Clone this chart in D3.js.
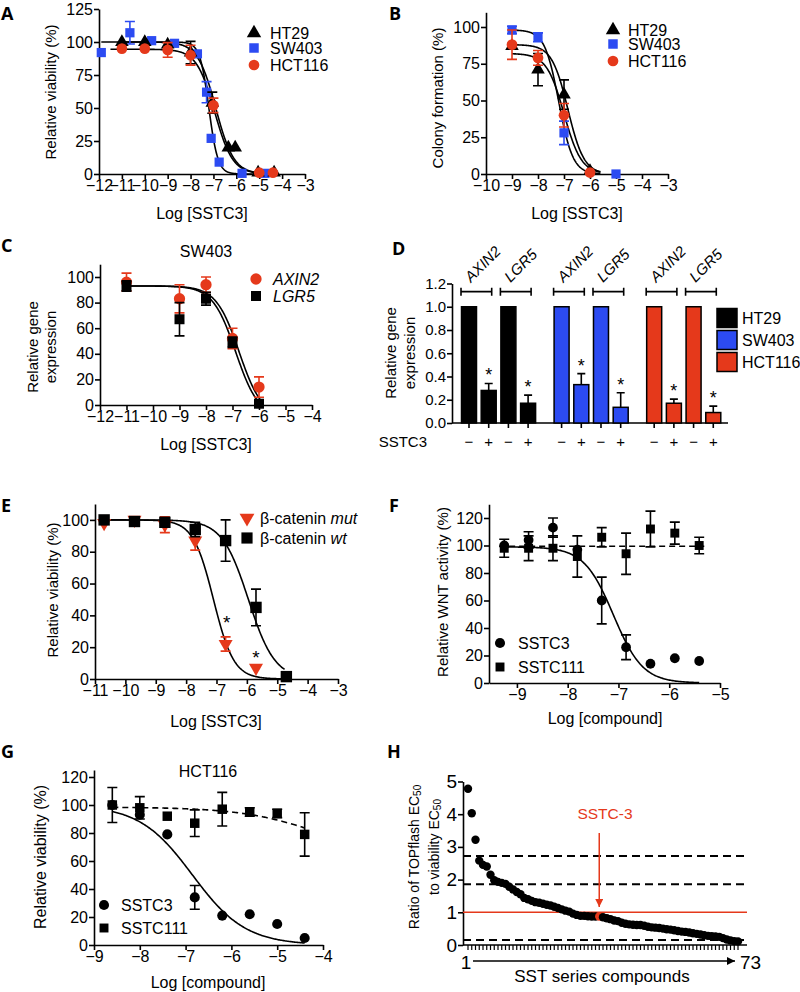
<!DOCTYPE html>
<html>
<head>
<meta charset="utf-8">
<style>
  body { margin: 0; background: #fff; }
</style>
</head>
<body>
<svg width="800" height="992"></svg>
<script src="https://cdn.jsdelivr.net/npm/d3@7"></script>
<script>
// ---- data: [log dose, mean, error] ----
var aHT29   = [[-11,100,0],[-10,100,0],[-9,98,0],[-8,92,8.5],[-7.05,54,8],[-6.35,20,0],[-6.05,20,0],[-5.05,1,0],[-4.35,1,0]];
var aSW403  = [[-11.9,92,0],[-10.65,107,8.5],[-9.7,101,0],[-8.7,99,0],[-7.7,91,0],[-7.3,62,8],[-7.1,27,0],[-6.75,9,0],[-5.75,0.5,0],[-4.75,0.5,0]];
var aHCT116 = [[-11,95,0],[-10,95,0],[-9,94,5.5],[-8,90,7.5],[-7,52,5.5],[-5,1,0],[-4.4,1,0]];
// fits: [top, bottom, logEC50, hill, from, to]
var aFits = [[100,0,-6.9,1.1,-11,-4.3],[100,0,-7.2,2.2,-11.9,-4.75],[94.5,0,-6.95,1.1,-11.5,-4.4]];

var bHT29   = [[-9,87,0],[-8,71,11],[-7,54,10],[-6,2,0]];
var bSW403  = [[-9,98,2.5],[-8,93,3],[-7,28,8],[-5,0,0]];
var bHCT116 = [[-9,88,10],[-8,79,5],[-7,40,8],[-6,1,0]];
var bFits = [[88,0,-6.85,1.4,-9,-5.6],[98,0,-7.2,1.6,-9,-5.6],[82,0,-7.0,1.3,-9,-5.6]];

var cAXIN2 = [[-11,96,7],[-9,83,11],[-8,94,6],[-7,52,8],[-6,14,8]];
var cLGR5  = [[-11,93,4],[-9,67,13],[-8,83,5],[-7,49,4],[-6,1,0]];
var cFits = [[93,-10,-6.75,1.0,-11,-5.9],[93,-10,-6.88,1.0,-11,-5.9]];

var dLines = ["HT29","SW403","HCT116"];
var dGenes = ["AXIN2","LGR5"];
var dControl = [[1,1],[1,1],[1,1]];
var dTreated = [[0.28,0.17],[0.33,0.135],[0.17,0.09]];
var dTreatedErr = [[0.06,0.07],[0.095,0.125],[0.035,0.055]];

var eMut = [[-10.7,98,0],[-9.7,100,1.5],[-8.7,97,5],[-7.7,87,6],[-6.7,22,4.5],[-5.7,7,0]];
var eWt  = [[-10.7,100,0],[-9.7,99,0],[-8.7,98.5,2],[-7.7,94,4.5],[-6.7,87,13],[-5.7,45,11.5],[-4.7,1.5,0]];
var eFits = [[100,0,-7.1,1.3,-10.7,-4.75],[100,0,-5.95,1.0,-10.7,-4.75]];
var eStars = [[-6.66,37],[-5.7,15]];

var fDose = [-9.25,-8.77,-8.29,-7.81,-7.33,-6.85,-6.37,-5.89,-5.41];
var fSSTC3 = [100,104,113,97,60,26,14,18,16];
var fSSTC3Err = [0,6,7,0,17,9,0,0,0];
var fSSTC111 = [98,98,98,92,106,94,112,109,100];
var fSSTC111Err = [6.5,9,9,15,7,15,13,8,6];
var fFits = [[99,0,-7.1,1.5,-9.25,-5.41],[99.5,99.5,-7,1,-9.35,-5.3]];

var gDose = [-8.6,-8.0,-7.4,-6.8,-6.2,-5.6,-5.0,-4.4];
var gSSTC3 = [100,93,79,34,21,22,15,5];
var gSSTC3Err = [0,0,0,8.5,0,0,0,0];
var gSSTC111 = [100,98,92,87,97,95,94,79];
var gSSTC111Err = [12.5,8,0,9.5,12,3,3,15.5];
var gFits = [[100,0,-6.85,0.75,-8.6,-4.4],[98.5,60,-4.0,0.5,-8.6,-4.4]];

var hRatio = [4.78,4.03,3.22,2.58,2.45,2.40,2.15,1.98,1.93,1.90,1.87,1.78,1.70,1.62,1.55,1.44,1.40,1.35,1.31,1.29,
              1.26,1.23,1.21,1.17,1.13,1.09,1.05,1.02,0.96,0.92,0.89,0.89,0.88,0.87,0.87,0.87,0.85,0.82,0.79,0.75,
              0.73,0.68,0.65,0.63,0.62,0.61,0.61,0.59,0.56,0.54,0.53,0.52,0.50,0.48,0.47,0.45,0.43,0.41,0.40,0.38,
              0.36,0.34,0.32,0.30,0.28,0.27,0.26,0.25,0.21,0.17,0.14,0.12,0.11];
var hHighlight = 36;
var hCutoffs = [2.72, 1.86, 0.15];
var hRef = 1;

// tick values
var aTicksX = [-12,-11,-10,-9,-8,-7,-6,-5,-4,-3], aTicksY = [0,25,50,75,100,125];
var bTicksX = [-10,-9,-8,-7,-6,-5,-4,-3], bTicksY = [0,25,50,75,100];
var cTicksX = [-12,-11,-10,-9,-8,-7,-6,-5,-4], cTicksY = [0,20,40,60,80,100];
var dTicksY = [0,0.2,0.4,0.6,0.8,1.0,1.2];
var eTicksX = [-11,-10,-9,-8,-7,-6,-5,-4,-3], eTicksY = [0,20,40,60,80,100];
var fTicksX = [-9,-8,-7,-6,-5], fTicksY = [0,20,40,60,80,100,120];
var gTicksX = [-9,-8,-7,-6,-5,-4], gTicksY = [0,20,40,60,80,100,120];
var hTicksY = [0,1,2,3,4,5];

var svg = d3.select("svg");
var FONT = '"Liberation Sans", Arial, Helvetica, sans-serif';
var BLUE = "#2c4bf2", RED = "#e5391b";
var TICK = 16, LEG = 16;

var defs = svg.append("defs");
function arrowMarker(id, color) {
  defs.append("marker").attr("id", id).attr("viewBox", "0 0 10 10")
    .attr("refX", 10).attr("refY", 5).attr("markerWidth", 9).attr("markerHeight", 8)
    .attr("markerUnits", "userSpaceOnUse").attr("orient", "auto")
    .append("path").attr("d", "M0,0L10,5L0,10z").attr("fill", color);
}
arrowMarker("arrRed", RED);
arrowMarker("arrBlack", "#000");

function hill4(f, v) { return f[1] + (f[0] - f[1]) / (1 + Math.pow(10, (v - f[2]) * f[3])); }

function text(x, y, s, size, anchor, fill) {
  return svg.append("text").attr("x", x).attr("y", y).attr("font-family", FONT)
    .attr("font-size", size).attr("text-anchor", anchor || "start").attr("fill", fill || "#000").text(s);
}
function yLabel(x, y, s, size) {
  return svg.append("text").attr("transform", "translate(" + x + "," + y + ") rotate(-90)")
    .attr("text-anchor", "middle").attr("dominant-baseline", "central")
    .attr("font-family", FONT).attr("font-size", size).text(s);
}
function letter(x, y, s) {
  svg.append("text").attr("x", x).attr("y", y).attr("font-family", '"Open Sans", sans-serif')
    .attr("font-weight", 700).attr("font-size", 18).text(s);
}
function styleAxis(a, fs) {
  a.attr("font-family", FONT).attr("font-size", fs);
  a.select(".domain").attr("stroke", "#000").attr("stroke-width", 1.6);
  a.selectAll(".tick line").attr("stroke", "#000").attr("stroke-width", 1.6);
  a.selectAll(".tick text").attr("fill", "#000");
  return a;
}
function axisLeft(y, xPos, ticks, fs, fmt) {
  var a = svg.append("g").attr("transform", "translate(" + xPos + ",0)")
    .call(d3.axisLeft(y).tickValues(ticks).tickSize(5).tickSizeOuter(0).tickPadding(1)
      .tickFormat(fmt || d3.format("d")));
  return styleAxis(a, fs);
}
function axisBottom(x, yPos, ticks, fs) {
  var a = svg.append("g").attr("transform", "translate(0," + yPos + ")")
    .call(d3.axisBottom(x).tickValues(ticks).tickSize(5).tickSizeOuter(0).tickPadding(1)
      .tickFormat(d3.format("d")));
  return styleAxis(a, fs);
}
function curve(x, y, f, dashed) {
  var pts = d3.range(f[4], f[5] + 0.0001, 0.02).map(function(v) { return [v, hill4(f, v)]; })
    .filter(function(p) { return p[1] >= -0.3; });
  svg.append("path").attr("d", d3.line().x(function(d) { return x(d[0]); }).y(function(d) { return y(d[1]); })(pts))
    .attr("fill", "none").attr("stroke", "#000").attr("stroke-width", 1.6)
    .attr("stroke-dasharray", dashed ? "6,4" : null);
}
var SYM = { circle: d3.symbolCircle, square: d3.symbolSquare, up: d3.symbolTriangle, down: d3.symbolTriangle };
function marker(cx, cy, color, shape, size) {
  svg.append("path").attr("transform", "translate(" + cx + "," + cy + ")" + (shape === "down" ? " rotate(180)" : ""))
    .attr("d", d3.symbol().type(SYM[shape]).size(size)).attr("fill", color);
}
function series(x, y, data, color, shape, size) {
  data.forEach(function(d) {
    if (!d[2]) return;
    var cx = x(d[0]), y0 = y(d[1] - d[2]), y1 = y(d[1] + d[2]);
    svg.append("path").attr("d", "M" + cx + "," + y0 + "V" + y1 + "M" + (cx - 5) + "," + y0 + "h10M" + (cx - 5) + "," + y1 + "h10")
      .attr("stroke", color).attr("stroke-width", 1.6).attr("fill", "none");
  });
  data.forEach(function(d) { marker(x(d[0]), y(d[1]), color, shape, size); });
}
function zip(xs, ys, es) { return xs.map(function(v, i) { return [v, ys[i], es[i]]; }); }

// ===== A =====
letter(1, 20, "A");
var xA = d3.scaleLinear().domain([-12, -3]).range([99, 305]);
var yA = d3.scaleLinear().domain([0, 125]).range([174, 9]);
axisLeft(yA, 99, aTicksY, TICK);
axisBottom(xA, 174, aTicksX, TICK);
aFits.forEach(function(f) { curve(xA, yA, f); });
series(xA, yA, aSW403, BLUE, "square", 85);
series(xA, yA, aHT29, "#000", "up", 80);
series(xA, yA, aHCT116, RED, "circle", 90);
[["HT29", "#000", "up", 33], ["SW403", BLUE, "square", 48], ["HCT116", RED, "circle", 65]].forEach(function(l) {
  marker(254, l[3], l[1], l[2], 90);
  text(270, l[3] + 6, l[0], LEG);
});
text(202, 219, "Log [SSTC3]", 16, "middle");
yLabel(50, 92, "Relative viability (%)", 15);

// ===== B =====
letter(389, 20, "B");
var xB = d3.scaleLinear().domain([-10, -3]).range([486, 668]);
var yB = d3.scaleLinear().domain([0, 110]).range([174, 12.3]);
axisLeft(yB, 486, bTicksY, TICK);
axisBottom(xB, 174, bTicksX, TICK);
bFits.forEach(function(f) { curve(xB, yB, f); });
series(xB, yB, bSW403, BLUE, "square", 85);
series(xB, yB, bHT29, "#000", "up", 80);
series(xB, yB, bHCT116, RED, "circle", 90);
[["HT29", "#000", "up", 30], ["SW403", BLUE, "square", 44], ["HCT116", RED, "circle", 61]].forEach(function(l) {
  marker(613, l[3], l[1], l[2], 90);
  text(628, l[3] + 6, l[0], LEG);
});
text(577, 219, "Log [SSTC3]", 16, "middle");
yLabel(437, 98, "Colony formation (%)", 15);

// ===== C =====
letter(1, 252, "C");
var xC = d3.scaleLinear().domain([-12, -4]).range([100, 312]);
var yC = d3.scaleLinear().domain([0, 110]).range([405, 264.2]);
axisLeft(yC, 100, cTicksY, TICK);
axisBottom(xC, 405, cTicksX, TICK);
cFits.forEach(function(f) { curve(xC, yC, f); });
series(xC, yC, cAXIN2, RED, "circle", 100);
series(xC, yC, cLGR5, "#000", "square", 100);
marker(256, 279, RED, "circle", 100);
text(273, 285, "AXIN2", LEG).attr("font-style", "italic");
marker(256, 296, "#000", "square", 100);
text(273, 302, "LGR5", LEG).attr("font-style", "italic");
text(206, 257, "SW403", 16, "middle");
text(206, 450, "Log [SSTC3]", 16, "middle");
yLabel(32, 347, "Relative gene", 15);
yLabel(50, 347, "expression", 15);

// ===== D =====
letter(392, 255, "D");
var xD = d3.scaleLinear().domain([0, 1]).range([469, 488.7]);
var yD = d3.scaleLinear().domain([0, 1.2]).range([423, 283.5]);
var dColors = ["#000", BLUE, RED];
axisLeft(yD, 452, dTicksY, 15, d3.format(".1f"));
svg.append("line").attr("x1", 452).attr("x2", 728).attr("y1", 423).attr("y2", 423)
  .attr("stroke", "#000").attr("stroke-width", 1.6);
dLines.forEach(function(line, li) {
  dGenes.forEach(function(gene, gi) {
    var p0 = li * 4.7 + gi * 2, c0 = xD(p0), c1 = xD(p0 + 1);
    var vals = [dControl[li][gi], dTreated[li][gi]];
    [c0, c1].forEach(function(cx, k) {
      svg.append("rect").attr("x", cx - 7.5).attr("width", 15)
        .attr("y", yD(vals[k])).attr("height", yD(0) - yD(vals[k]))
        .attr("fill", dColors[li]).attr("stroke", "#000").attr("stroke-width", 1.5);
      svg.append("line").attr("x1", cx).attr("x2", cx).attr("y1", 423).attr("y2", 428)
        .attr("stroke", "#000").attr("stroke-width", 1.6);
      text(cx, 447, k ? "+" : "\u2212", 15, "middle");
    });
    var top = yD(dTreated[li][gi] + dTreatedErr[li][gi]);
    svg.append("path").attr("d", "M" + c1 + "," + yD(dTreated[li][gi]) + "V" + top + "M" + (c1 - 4) + "," + top + "h8")
      .attr("stroke", "#000").attr("stroke-width", 1.6).attr("fill", "none");
    text(c1, top - 2, "*", 18, "middle");
    var by = yD(1.13);
    svg.append("path").attr("d", "M" + (c0 - 8) + "," + by + "H" + (c1 + 3) +
        "M" + (c0 - 8) + "," + (by - 4) + "v8M" + (c1 + 3) + "," + (by - 4) + "v8")
      .attr("stroke", "#000").attr("stroke-width", 1.6).attr("fill", "none");
    svg.append("text").attr("transform", "translate(" + (c0 + 2) + ",283) rotate(-45)")
      .attr("font-family", FONT).attr("font-size", 15).attr("font-style", "italic").text(gene);
  });
});
dLines.forEach(function(line, li) {
  var cy = [318, 340, 362][li];
  svg.append("rect").attr("x", 717).attr("y", cy - 9.5).attr("width", 20).attr("height", 19)
    .attr("fill", dColors[li]).attr("stroke", "#000").attr("stroke-width", 1.5);
  text(742, cy + 6, line, LEG);
});
text(427, 447, "SSTC3", 15, "end");
yLabel(390, 353, "Relative gene", 15);
yLabel(409, 353, "expression", 15);

// ===== E =====
letter(1, 512, "E");
var xE = d3.scaleLinear().domain([-11, -3]).range([95, 338]);
var yE = d3.scaleLinear().domain([0, 110]).range([679, 504]);
axisLeft(yE, 95, eTicksY, TICK);
axisBottom(xE, 679, eTicksX, TICK);
eFits.forEach(function(f) { curve(xE, yE, f); });
series(xE, yE, eMut, RED, "down", 85);
series(xE, yE, eWt, "#000", "square", 130);
eStars.forEach(function(s) { text(xE(s[0]), yE(s[1]) + 9, "*", 19, "middle"); });
marker(247, 518, RED, "down", 95);
marker(247, 538, "#000", "square", 125);
var t1 = text(260, 524, "\u03b2-catenin ", LEG); t1.append("tspan").attr("font-style", "italic").text("mut");
var t2 = text(260, 544, "\u03b2-catenin ", LEG); t2.append("tspan").attr("font-style", "italic").text("wt");
text(216, 727, "Log [SSTC3]", 16, "middle");
yLabel(52, 590, "Relative viability (%)", 15);

// ===== F =====
letter(389, 512, "F");
var xF = d3.scaleLinear().domain([-9.55, -5]).range([489, 720]);
var yF = d3.scaleLinear().domain([0, 130]).range([683, 504.25]);
axisLeft(yF, 489, fTicksY, TICK);
axisBottom(xF, 683, fTicksX, TICK);
curve(xF, yF, fFits[0]);
curve(xF, yF, fFits[1], true);
series(xF, yF, zip(fDose, fSSTC111, fSSTC111Err), "#000", "square", 80);
series(xF, yF, zip(fDose, fSSTC3, fSSTC3Err), "#000", "circle", 75);
marker(500, 643, "#000", "circle", 80);
text(518, 649, "SSTC3", LEG);
marker(500, 667, "#000", "square", 80);
text(518, 673, "SSTC111", LEG);
text(605, 724, "Log [compound]", 16, "middle");
yLabel(442, 592, "Relative WNT activity (%)", 15);

// ===== G =====
letter(1, 758, "G");
var xG = d3.scaleLinear().domain([-9, -4]).range([94, 323]);
var yG = d3.scaleLinear().domain([0, 125]).range([945, 770]);
axisLeft(yG, 94, gTicksY, TICK);
axisBottom(xG, 945, gTicksX, TICK);
curve(xG, yG, gFits[0]);
curve(xG, yG, gFits[1], true);
series(xG, yG, zip(gDose, gSSTC3, gSSTC3Err), "#000", "circle", 80);
series(xG, yG, zip(gDose, gSSTC111, gSSTC111Err), "#000", "square", 90);
marker(104, 905, "#000", "circle", 80);
text(121, 911, "SSTC3", LEG);
marker(104, 928, "#000", "square", 80);
text(121, 934, "SSTC111", LEG);
text(208, 777, "HCT116", 16, "middle");
text(208, 988, "Log [compound]", 16, "middle");
yLabel(40, 857, "Relative viability (%)", 16);

// ===== H =====
letter(387, 758, "H");
var xH = d3.scaleLinear().domain([1, 73]).range([468, 738]);
var yH = d3.scaleLinear().domain([0, 5]).range([945, 781.5]);
axisLeft(yH, 463, hTicksY, 19);
svg.append("line").attr("x1", 463).attr("x2", 747).attr("y1", 945).attr("y2", 945)
  .attr("stroke", "#000").attr("stroke-width", 1.6);
svg.selectAll(null).data(hRatio).enter().append("line")
  .attr("x1", function(d, i) { return xH(i + 1); }).attr("x2", function(d, i) { return xH(i + 1); })
  .attr("y1", 945).attr("y2", 950).attr("stroke", "#000").attr("stroke-width", 1.2);
hCutoffs.forEach(function(v) {
  svg.append("line").attr("x1", 463).attr("x2", 747).attr("y1", yH(v)).attr("y2", yH(v))
    .attr("stroke", "#000").attr("stroke-width", 2).attr("stroke-dasharray", "8,5");
});
svg.append("line").attr("x1", 463).attr("x2", 747).attr("y1", yH(hRef)).attr("y2", yH(hRef))
  .attr("stroke", RED).attr("stroke-width", 1.5);
svg.selectAll(null).data(hRatio).enter().append("circle")
  .attr("cx", function(d, i) { return xH(i + 1); }).attr("cy", function(d) { return yH(d); })
  .attr("r", 4.2).attr("fill", function(d, i) { return i + 1 === hHighlight ? RED : "#000"; });
text(605, 819, "SSTC-3", 15.5, "middle", RED);
svg.append("line").attr("x1", xH(hHighlight)).attr("x2", xH(hHighlight)).attr("y1", 833).attr("y2", 907)
  .attr("stroke", RED).attr("stroke-width", 1.5).attr("marker-end", "url(#arrRed)");
svg.append("line").attr("x1", 473).attr("x2", 735).attr("y1", 961).attr("y2", 961)
  .attr("stroke", "#000").attr("stroke-width", 1.5).attr("marker-end", "url(#arrBlack)");
text(466, 969, "1", 19, "middle");
text(740, 969, "73", 19, "start");
text(602, 982, "SST series compounds", 17, "middle");
var h1 = svg.append("text").attr("transform", "translate(414,857) rotate(-90)").attr("text-anchor", "middle")
  .attr("dominant-baseline", "central").attr("font-family", FONT).attr("font-size", 14).text("Ratio of TOPflash EC");
h1.append("tspan").attr("font-size", 10).attr("dy", 3).text("50");
var h2 = svg.append("text").attr("transform", "translate(434,847) rotate(-90)").attr("text-anchor", "middle")
  .attr("dominant-baseline", "central").attr("font-family", FONT).attr("font-size", 14).text("to viability EC");
h2.append("tspan").attr("font-size", 10).attr("dy", 3).text("50");
</script>
</body>
</html>
